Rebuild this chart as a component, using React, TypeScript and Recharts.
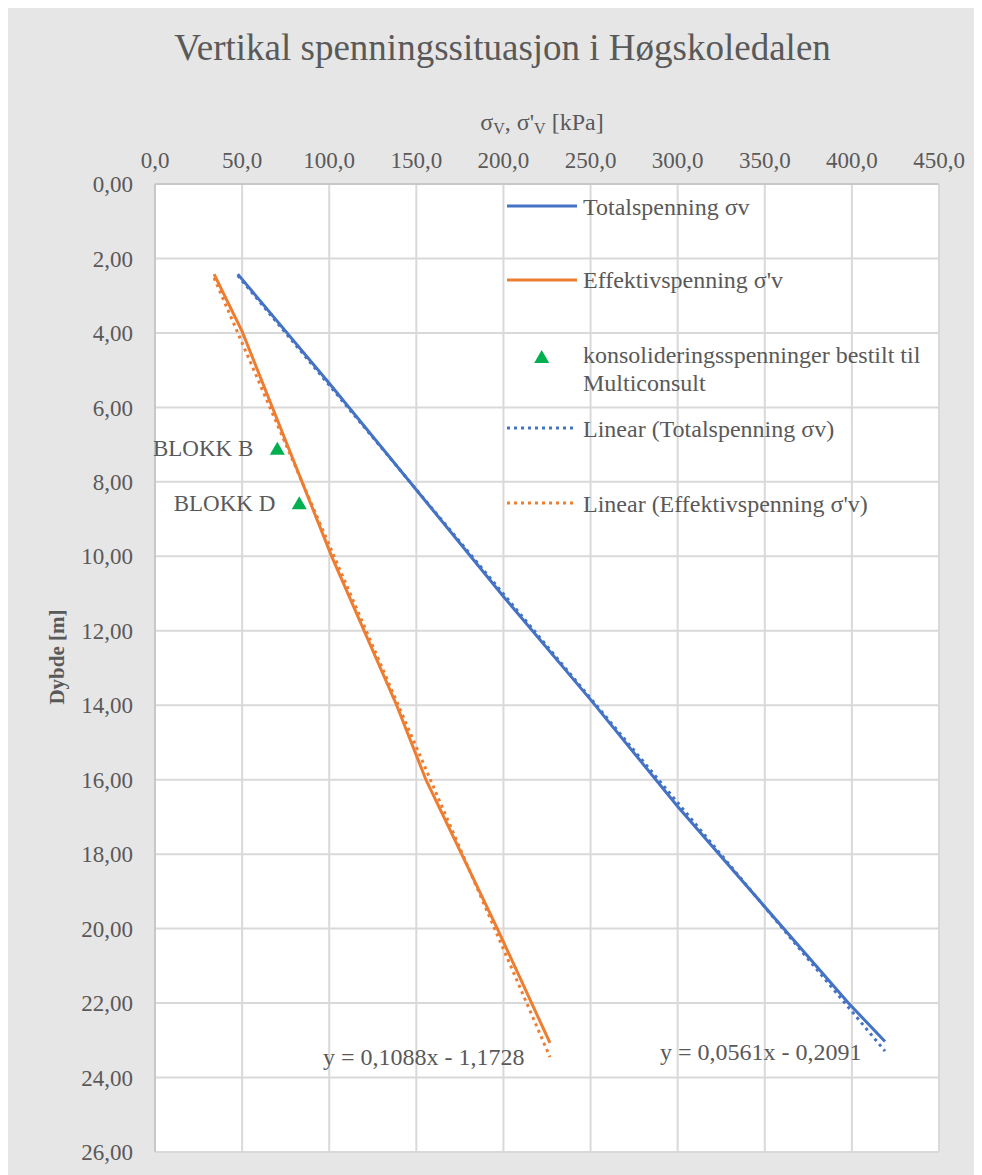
import { ComposedChart, Line, Scatter, XAxis, YAxis, CartesianGrid } from 'recharts';

// total vertical stress profile: depth [m] and stress [kPa]
const totalDepth = [2.42, 5.35, 11.08, 13.85, 16.72, 22, 23.03];
const totalStress = [47.5, 100, 200, 250, 300, 398, 419];
// effective vertical stress profile
const effDepth = [2.42, 3.96, 10, 14, 16, 20, 23.07];
const effStress = [33.9, 50, 101.4, 138.7, 155.5, 196.5, 226.7];

// linear trendlines (end points)
const trendTotalStress = [47.5, 419];
const trendTotalDepth = [2.46, 23.29];
const trendEffStress = [33.9, 226.7];
const trendEffDepth = [2.52, 23.45];

// consolidation stresses ordered from Multiconsult
const blockNames = ['BLOKK B', 'BLOKK D'];
const blockStress = [70.2, 82.8];
const blockDepth = [7.1, 8.56];

const xTicks = [0, 50, 100, 150, 200, 250, 300, 350, 400, 450];
const yTicks = [0, 2, 4, 6, 8, 10, 12, 14, 16, 18, 20, 22, 24, 26];

const BLUE = '#4472c4';
const ORANGE = '#ed7d31';
const GREEN = '#00b050';
const TEXT = '#595959';
const FONT = 'Liberation Serif, Times New Roman, serif';

const txt = { fontFamily: FONT, fill: TEXT, fontSize: 23 };
const big = { ...txt, fontSize: 24 };

const totalData = totalDepth.map((d, i) => ({ x: totalStress[i], y: d }));
const effData = effDepth.map((d, i) => ({ x: effStress[i], y: d }));
const trendTotal = trendTotalStress.map((x, i) => ({ x, y: trendTotalDepth[i] }));
const trendEff = trendEffStress.map((x, i) => ({ x, y: trendEffDepth[i] }));
const blocks = blockNames.map((name, i) => ({ name, x: blockStress[i], y: blockDepth[i] }));

const Triangle = (props: any) => {
  const { cx, cy, payload } = props;
  return (
    <g>
      <polygon
        points={`${cx},${cy - 6.5} ${cx + 7.5},${cy + 6.5} ${cx - 7.5},${cy + 6.5}`}
        fill={GREEN}
      />
      <text x={cx - 24} y={cy + 8} textAnchor="end" {...txt}>
        {payload.name}
      </text>
    </g>
  );
};

export default function App() {
  return (
    <div style={{ position: 'relative', width: 974, height: 1170, marginTop: -3, background: '#e6e6e6', fontFamily: FONT }}>
      <ComposedChart width={974} height={1170} margin={{ top: 0, right: 43, bottom: 23, left: 0 }}>
        <CartesianGrid stroke="#d9d9d9" strokeWidth={2} fill="#ffffff" fillOpacity={1} />
        <XAxis
          type="number"
          dataKey="x"
          orientation="top"
          height={179}
          domain={[0, 450]}
          ticks={xTicks}
          tickFormatter={(v: number) => v.toFixed(1).replace('.', ',')}
          tickLine={false}
          tickMargin={10}
          axisLine={{ stroke: '#c8c8c8', strokeWidth: 2 }}
          tick={txt}
        />
        <YAxis
          type="number"
          dataKey="y"
          reversed
          width={147}
          domain={[0, 26]}
          ticks={yTicks}
          tickFormatter={(v: number) => v.toFixed(2).replace('.', ',')}
          tickLine={false}
          tickMargin={16}
          axisLine={{ stroke: '#c8c8c8', strokeWidth: 2 }}
          tick={txt}
        />
        <Line data={trendTotal} dataKey="y" stroke={BLUE} strokeWidth={3} strokeDasharray="3 4" dot={false} isAnimationActive={false} />
        <Line data={trendEff} dataKey="y" stroke={ORANGE} strokeWidth={3} strokeDasharray="3 4" dot={false} isAnimationActive={false} />
        <Line data={totalData} dataKey="y" stroke={BLUE} strokeWidth={3} dot={false} isAnimationActive={false} />
        <Line data={effData} dataKey="y" stroke={ORANGE} strokeWidth={3} dot={false} isAnimationActive={false} />
        <Scatter data={blocks} dataKey="y" shape={Triangle} isAnimationActive={false} />
      </ComposedChart>

      <svg width={974} height={1170} style={{ position: 'absolute', left: 0, top: 0, pointerEvents: 'none' }}>
        <text x={494.5} y={55} textAnchor="middle" {...txt} fontSize={37}>
          Vertikal spenningssituasjon i Høgskoledalen
        </text>
        <text x={534} y={125} textAnchor="middle" {...big}>
          σ<tspan fontSize={16} dy={4}>V</tspan>
          <tspan dy={-4}>, σ'</tspan>
          <tspan fontSize={16} dy={4}>V</tspan>
          <tspan dy={-4}> [kPa]</tspan>
        </text>
        <text x={56} y={652} textAnchor="middle" {...txt} fontSize={21} fontWeight="bold" transform="rotate(-90 56 652)">
          Dybde [m]
        </text>

        {/* legend */}
        <line x1={499} x2={569} y1={201} y2={201} stroke={BLUE} strokeWidth={3} />
        <text x={575} y={210} {...big}>Totalspenning σv</text>
        <line x1={499} x2={569} y1={275} y2={275} stroke={ORANGE} strokeWidth={3} />
        <text x={575} y={283} {...big}>Effektivspenning σ'v</text>
        <polygon points="533.7,345 541.2,358 526.2,358" fill={GREEN} />
        <text x={575} y={357.7} {...big}>konsolideringsspenninger bestilt til</text>
        <text x={575} y={385.7} {...big}>Multiconsult</text>
        <line x1={499} x2={569} y1={423} y2={423} stroke={BLUE} strokeWidth={3} strokeDasharray="3 4" />
        <text x={575} y={431.7} {...big}>Linear (Totalspenning σv)</text>
        <line x1={499} x2={569} y1={498} y2={498} stroke={ORANGE} strokeWidth={3} strokeDasharray="3 4" />
        <text x={575} y={506.7} {...big}>Linear (Effektivspenning σ'v)</text>

        {/* trendline equations */}
        <text x={315} y={1060} {...big}>y = 0,1088x - 1,1728</text>
        <text x={652} y={1055} {...big}>y = 0,0561x - 0,2091</text>
      </svg>
    </div>
  );
}
